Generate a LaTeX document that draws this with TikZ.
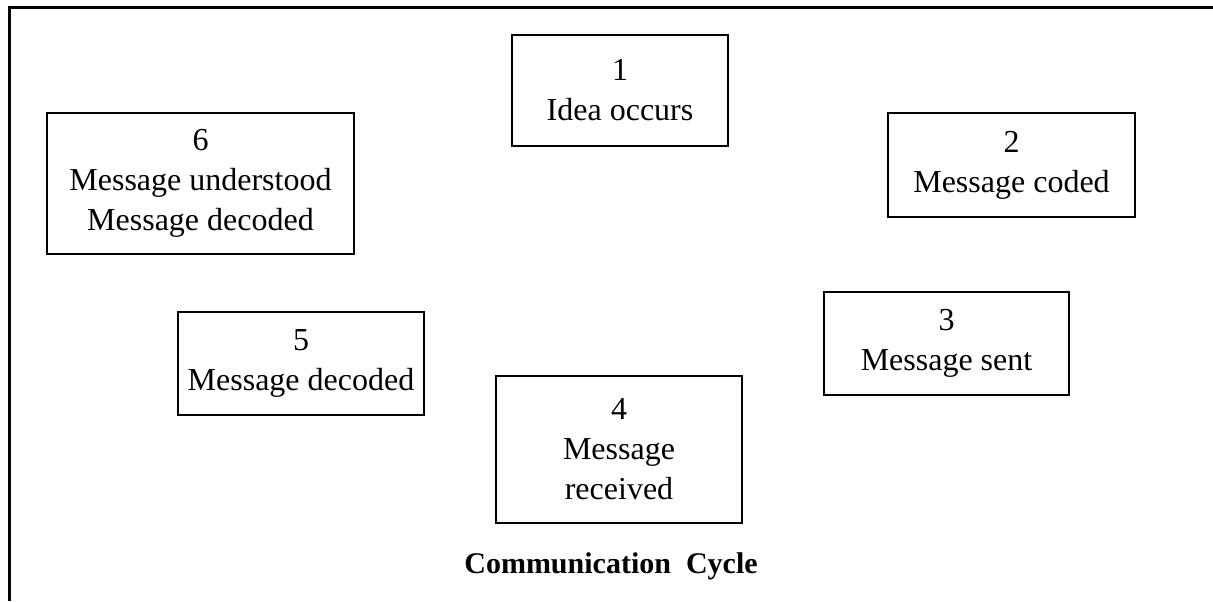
\documentclass[tikz,border=0pt]{standalone}
\usepackage{fontspec}
\setmainfont{Liberation Serif}
\usetikzlibrary{positioning}

\begin{document}
\begin{tikzpicture}[x=0.5pt, y=-0.5pt,
    stage/.style={draw, line width=1.2pt, inner sep=0pt, align=center,
                  font=\fontsize{16}{20}\selectfont, text centered}]
      \useasboundingbox (0,0) rectangle (1213,601);

      % frame %
      \draw[line width=1.5pt] (9,601) -- (9,7) -- (1213,7);

      % nodes %
      \node[stage, minimum width=108pt, minimum height=55.5pt] (idea) at (620,90.5) {1\\Idea occurs};
      \node[stage, minimum width=123.5pt, minimum height=52pt] (coded) at (1011.5,165) {2\\Message coded};
      \node[stage, minimum width=122.5pt, minimum height=51.5pt] (sent) at (946.5,343.5) {3\\Message sent};
      \node[stage, minimum width=123pt, minimum height=73.5pt] (received) at (619,449.5) {4\\Message\\received};
      \node[stage, minimum width=123pt, minimum height=51.5pt] (decoded) at (301,363.5) {5\\Message decoded};
      \node[stage, minimum width=153.5pt, minimum height=70.5pt] (understood) at (200.5,183.5) {6\\Message understood\\Message decoded};

      % caption %
      \node[font=\fontsize{15}{18}\selectfont\bfseries] (caption) at (611,566) {Communication\ \ Cycle};
\end{tikzpicture}
\end{document}
